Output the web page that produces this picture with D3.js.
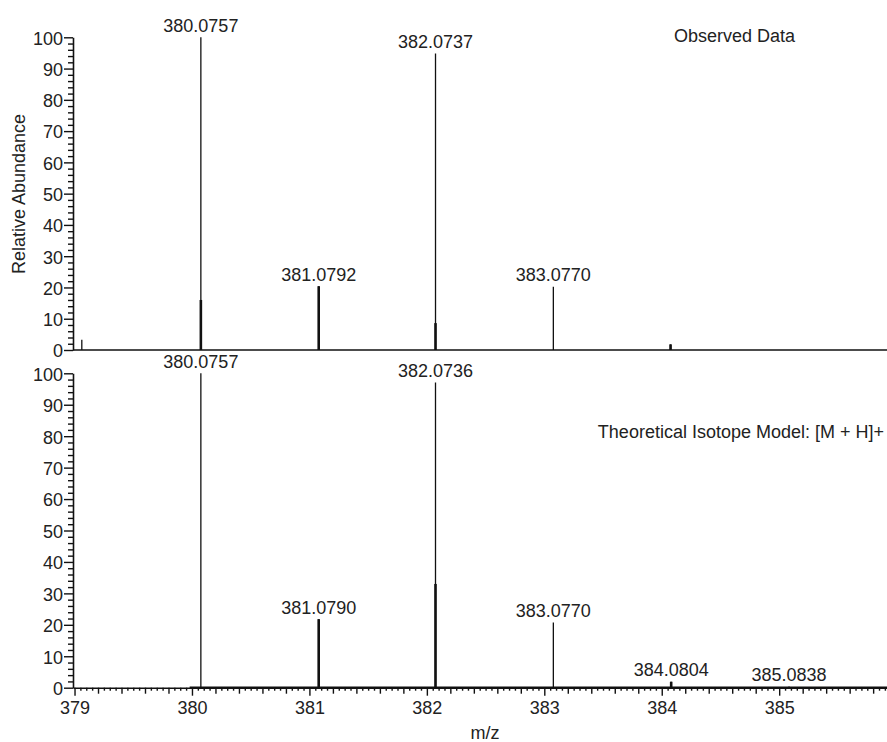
<!DOCTYPE html>
<html>
<head>
<meta charset="utf-8">
<script src="https://cdn.jsdelivr.net/npm/d3@7"></script>
<style>
  html, body { margin: 0; padding: 0; background: #fff; }
  svg { display: block; }
  text { font-family: "Liberation Sans", Arial, sans-serif; fill: #222; }
</style>
</head>
<body>
<svg id="chart" width="887" height="742"></svg>
<script>
// ---- data ----
// Observed spectrum: peak positions (m/z), relative abundance, thick foot height, labels
const obsMz     = [379.062, 380.0757, 381.0792, 382.0737, 383.0770, 384.075];
const obsInt    = [3.3, 100, 20.4, 94.8, 20.2, 1.8];
const obsFoot   = [0, 16, 20.4, 8.6, 0, 1.8];
const obsLabels = ["", "380.0757", "381.0792", "382.0737", "383.0770", ""];

// Theoretical isotope model [M + H]+
const theoMz     = [380.0757, 381.0790, 382.0736, 383.0770, 384.0804, 385.0838];
const theoInt    = [100, 21.8, 97.1, 20.7, 1.9, 0.4];
const theoFoot   = [0, 21.8, 33, 0, 1.9, 0];
const theoLabels = ["380.0757", "381.0790", "382.0736", "383.0770", "384.0804", "385.0838"];
const theoRange  = [379.98, 385.918];

// axes
const xDomain     = [378.987, 385.918];
const xMajorTicks = [379, 380, 381, 382, 383, 384, 385];
const yMajorTicks = [0, 10, 20, 30, 40, 50, 60, 70, 80, 90, 100];
const yMinorStep  = 2;
const xMediumStep = 0.2;
const xMinorStep  = 0.05;

const yTitle  = "Relative Abundance";
const xTitle  = "m/z";
const topNote = "Observed Data";
const botNote = "Theoretical Isotope Model: [M + H]+";

// ---- layout ----
const svg = d3.select("#chart");
const FS = 18;

const x = d3.scaleLinear().domain(xDomain).range([73, 887]);
const yTop = d3.scaleLinear().domain([0, 100]).range([350, 37.3]);
const yBot = d3.scaleLinear().domain([0, 100]).range([687.7, 373.3]);

function rangeStep(a, b, s) {
  const out = [];
  const n = Math.round((b - a) / s);
  for (let i = 0; i <= n; i++) out.push(+(a + i * s).toFixed(4));
  return out;
}

function styleAxis(g) {
  g.selectAll("path.domain").attr("stroke", "#111").attr("stroke-width", 1.6);
  g.selectAll(".tick line").attr("stroke", "#111").attr("stroke-width", 1.4);
  g.selectAll("text").attr("font-size", FS).attr("fill", "#222")
    .attr("font-family", '"Liberation Sans", Arial, sans-serif');
}

function drawYAxis(y) {
  const minor = rangeStep(0, 100, yMinorStep).filter(v => v % 10 !== 0);
  const gMin = svg.append("g").attr("transform", "translate(73,0)")
    .call(d3.axisLeft(y).tickValues(minor).tickSize(5).tickSizeOuter(0).tickFormat(""));
  gMin.select("path.domain").remove();
  styleAxis(gMin);
  const gMaj = svg.append("g").attr("transform", "translate(73,0)")
    .call(d3.axisLeft(y).tickValues(yMajorTicks).tickSize(9).tickSizeOuter(0).tickPadding(1).tickFormat(d3.format("d")));
  styleAxis(gMaj);
  gMaj.selectAll("text").attr("dy", "0.38em");
}

drawYAxis(yTop);
drawYAxis(yBot);

// top panel baseline (no ticks)
svg.append("line")
  .attr("x1", x.range()[0]).attr("x2", x.range()[1])
  .attr("y1", yTop(0)).attr("y2", yTop(0))
  .attr("stroke", "#111").attr("stroke-width", 1.6);

// bottom x axis with major/medium/minor ticks
const allMinor = rangeStep(379, 385.9, xMinorStep);
const isInt = v => Math.abs(v - Math.round(v)) < 1e-6;
const isMed = v => Math.abs(v / xMediumStep - Math.round(v / xMediumStep)) < 1e-6;
const minorT = allMinor.filter(v => !isMed(v));
const medT = allMinor.filter(v => isMed(v) && !isInt(v));

const gxMin = svg.append("g").attr("transform", `translate(0,${yBot(0)})`)
  .call(d3.axisBottom(x).tickValues(minorT).tickSize(3).tickSizeOuter(0).tickFormat(""));
gxMin.select("path.domain").remove();
styleAxis(gxMin);
const gxMed = svg.append("g").attr("transform", `translate(0,${yBot(0)})`)
  .call(d3.axisBottom(x).tickValues(medT).tickSize(6).tickSizeOuter(0).tickFormat(""));
gxMed.select("path.domain").remove();
styleAxis(gxMed);
const gxMaj = svg.append("g").attr("transform", `translate(0,${yBot(0)})`)
  .call(d3.axisBottom(x).tickValues(xMajorTicks).tickSize(8).tickSizeOuter(0).tickPadding(6).tickFormat(d3.format("d")));
styleAxis(gxMaj);

// ---- peaks ----
function drawPeaks(mz, inten, foot, labels, y) {
  const data = mz.map((m, i) => ({ m, h: inten[i], f: foot[i], label: labels[i] }));
  const g = svg.append("g");
  g.selectAll("line.stick").data(data).join("line")
    .attr("class", "stick")
    .attr("x1", d => x(d.m)).attr("x2", d => x(d.m))
    .attr("y1", y(0)).attr("y2", d => y(d.h))
    .attr("stroke", "#111").attr("stroke-width", 1.3);
  g.selectAll("line.foot").data(data.filter(d => d.f > 0)).join("line")
    .attr("class", "foot")
    .attr("x1", d => x(d.m)).attr("x2", d => x(d.m))
    .attr("y1", y(0)).attr("y2", d => y(d.f))
    .attr("stroke", "#111").attr("stroke-width", 2.6);
  g.selectAll("text.lbl").data(data.filter(d => d.label)).join("text")
    .attr("class", "lbl")
    .attr("x", d => x(d.m)).attr("y", d => y(d.h) - 5.5)
    .attr("text-anchor", "middle").attr("font-size", FS)
    .text(d => d.label);
}

// theoretical baseline overlay
svg.append("line")
  .attr("x1", x(theoRange[0])).attr("x2", x(theoRange[1]))
  .attr("y1", yBot(0)).attr("y2", yBot(0))
  .attr("stroke", "#111").attr("stroke-width", 2.6);

drawPeaks(obsMz, obsInt, obsFoot, obsLabels, yTop);
drawPeaks(theoMz, theoInt, theoFoot, theoLabels, yBot);

// ---- titles / notes ----
svg.append("text")
  .attr("transform", "translate(25,194) rotate(-90)")
  .attr("text-anchor", "middle").attr("font-size", FS)
  .text(yTitle);
svg.append("text")
  .attr("x", 485).attr("y", 739)
  .attr("text-anchor", "middle").attr("font-size", FS)
  .text(xTitle);
svg.append("text")
  .attr("x", 795).attr("y", 42)
  .attr("text-anchor", "end").attr("font-size", FS)
  .text(topNote);
svg.append("text")
  .attr("x", 884).attr("y", 438)
  .attr("text-anchor", "end").attr("font-size", FS)
  .text(botNote);
</script>
</body>
</html>
